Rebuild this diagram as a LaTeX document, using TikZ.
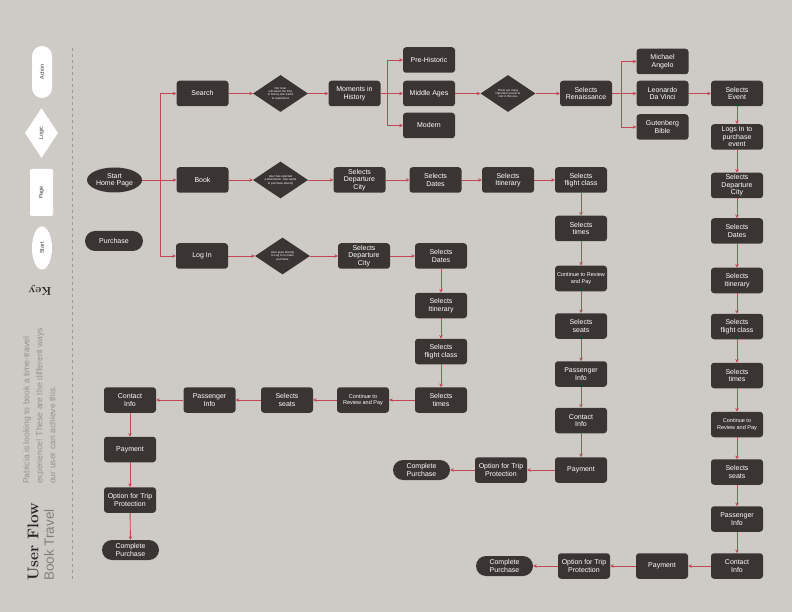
\documentclass[tikz,border=0pt]{standalone}
\usepackage{fontspec}
\usetikzlibrary{shapes.geometric,arrows.meta}
\newfontfamily\uif{Liberation Sans}
\definecolor{bg}{RGB}{206,203,199}
\definecolor{boxc}{RGB}{58,53,50}
\definecolor{flow}{RGB}{196,70,84}
\definecolor{greytext}{RGB}{130,127,123}
\definecolor{keytext}{RGB}{60,56,53}
\tikzset{
  stepbox/.style={rectangle, rounded corners=3pt, fill=boxc, text=white, minimum width=52pt, minimum height=25.5pt, inner sep=1pt, align=center, font=\uif\fontsize{7}{7.4}\selectfont},
  smallbox/.style={stepbox, font=\uif\fontsize{5.5}{6.5}\selectfont},
  pill/.style={stepbox, rounded corners=10pt, minimum width=57pt, minimum height=20pt},
  startell/.style={ellipse, fill=boxc, text=white, minimum width=55pt, minimum height=25pt, inner sep=0pt, align=center, font=\uif\fontsize{7}{7.4}\selectfont},
  logic/.style={diamond, fill=boxc, text=white, minimum width=55pt, minimum height=37pt, inner sep=0pt, aspect=1.49, align=center, font=\uif\fontsize{2.9}{3.4}\selectfont},
  keyshape/.style={fill=white, text=keytext, rotate=90, inner sep=0pt, font=\uif\fontsize{5.5}{6}\selectfont},
  arr/.style={draw=flow, line width=0.9pt, -{Stealth[length=3.5pt,width=3.5pt]}}
}
\begin{document}
\begin{tikzpicture}[x=1pt,y=-1pt]
\useasboundingbox (0,0) rectangle (792,612);
\fill[bg] (0,0) rectangle (792,612);

% ---- key and titles ----
\draw[greytext!80, dashed, line width=0.6pt] (72,48) -- (72,582);
\node[keyshape, rectangle, rounded corners=10pt, minimum width=52pt, minimum height=20pt] (kaction) at (42,72) {Action};
\node[keyshape, diamond, minimum width=50pt, minimum height=33pt] (klogic) at (41.5,133) {Logic};
\node[keyshape, rectangle, rounded corners=2pt, minimum width=47pt, minimum height=23pt] (kpage) at (41.5,192.5) {Page};
\node[keyshape, ellipse, minimum width=43pt, minimum height=20pt] (kstart) at (42,248) {Start};
\node[rotate=180, text=black!85, font=\fontsize{11.5}{11.5}\selectfont\bfseries, inner sep=0pt] (keylbl) at (40,290) {Key};
\node[rotate=90, anchor=west, inner sep=0pt, text=black!85, font=\fontsize{15.5}{15.5}\selectfont\bfseries] (title) at (33,581) {User Flow};
\node[rotate=90, anchor=west, inner sep=0pt, text=greytext, font=\uif\fontsize{13.5}{13.5}\selectfont] (subtitle) at (49,581) {Book Travel};
\node[rotate=90, anchor=north west, inner sep=0pt, text=greytext!85, align=left, font=\uif\fontsize{8.6}{13}\selectfont] (desc) at (23,484) {Patricia is looking to book a time-travel\\experience! These are the different ways\\our user can achieve this.};

% ---- start ----
\node[startell] (start) at (114.5,180) {Start\\Home Page};
\node[pill, minimum width=58pt] (purchase) at (114,241) {Purchase};
\coordinate (hub) at (160,180);

% ---- row 1: search ----
\node[stepbox] (search) at (202.5,93.5) {Search};
\node[logic] (d1) at (280.5,93.5) {Our User\\will select the time\\in history she wants\\to experience};
\node[stepbox] (moments) at (354.5,93.5) {Moments in\\History};
\coordinate (hub2) at (387,93.5);
\node[stepbox] (pre) at (429,60) {Pre-Historic};
\node[stepbox] (middle) at (429,93.5) {Middle Ages};
\node[stepbox] (modern) at (429,125.5) {Modern};
\node[logic] (d4) at (508,93.5) {There are many\\important events to\\visit in this era.};
\node[stepbox] (ren) at (586,93.5) {Selects\\Renaissance};
\coordinate (hub3) at (621,93.5);
\node[stepbox] (mich) at (662.5,61.5) {Michael\\Angelo};
\node[stepbox] (leo) at (662.5,93.5) {Leonardo\\Da Vinci};
\node[stepbox] (gut) at (662.5,127) {Gutenberg\\Bible};
\node[stepbox] (event) at (737,93.5) {Selects\\Event};
\node[stepbox] (logs) at (737,137) {Logs In to\\purchase\\event};
\node[stepbox] (depA) at (737,185.5) {Selects\\Departure\\City};
\node[stepbox] (datesA) at (737,231) {Selects\\Dates};
\node[stepbox] (itinA) at (737,280.5) {Selects\\Itinerary};
\node[stepbox] (flightA) at (737,326.5) {Selects\\flight class};
\node[stepbox] (timesA) at (737,375.5) {Selects\\times};
\node[smallbox] (contA) at (737,424.5) {Continue to\\Review and Pay};
\node[stepbox] (seatsA) at (737,472) {Selects\\seats};
\node[stepbox] (passA) at (737,519) {Passenger\\Info};
\node[stepbox] (contactA) at (737,566) {Contact\\Info};
\node[stepbox] (payA) at (662,566) {Payment};
\node[stepbox] (optA) at (584,566) {Option for Trip\\Protection};
\node[pill] (compA) at (504.5,566) {Complete\\Purchase};

% ---- row 2: book ----
\node[stepbox] (book) at (202.5,180) {Book};
\node[logic] (d2) at (280.5,180) {User has selected\\a destination. She wants\\to purchase directly};
\node[stepbox] (depB) at (359.5,180) {Selects\\Departure\\City};
\node[stepbox] (datesB) at (435.5,180) {Selects\\Dates};
\node[stepbox] (itinB) at (508,180) {Selects\\Itinerary};
\node[stepbox] (flightB) at (581,180) {Selects\\flight class};
\node[stepbox] (timesB) at (581,228.5) {Selects\\times};
\node[smallbox] (contB) at (581,278.5) {Continue to Review\\and Pay};
\node[stepbox] (seatsB) at (581,326) {Selects\\seats};
\node[stepbox] (passB) at (581,374) {Passenger\\Info};
\node[stepbox] (contactB) at (581,420.5) {Contact\\Info};
\node[stepbox] (payB) at (581,470) {Payment};
\node[stepbox] (optB) at (501,470) {Option for Trip\\Protection};
\node[pill] (compB) at (421.5,470) {Complete\\Purchase};

% ---- row 3: log in ----
\node[stepbox] (login) at (202,256) {Log In};
\node[logic] (d3) at (282.5,256) {User goes directly\\to Log In to make\\purchase};
\node[stepbox] (depC) at (364,256) {Selects\\Departure\\City};
\node[stepbox] (datesC) at (441,256) {Selects\\Dates};
\node[stepbox] (itinC) at (441,305.5) {Selects\\Itinerary};
\node[stepbox] (flightC) at (441,351.5) {Selects\\flight class};
\node[stepbox] (timesC) at (441,400) {Selects\\times};
\node[smallbox] (contC) at (363,400) {Continue to\\Review and Pay};
\node[stepbox] (seatsC) at (287,400) {Selects\\seats};
\node[stepbox] (passC) at (209.5,400) {Passenger\\Info};
\node[stepbox] (contactC) at (130,400) {Contact\\Info};
\node[stepbox] (payC) at (130,449.5) {Payment};
\node[stepbox] (optC) at (130,500) {Option for Trip\\Protection};
\node[pill] (compC) at (130.5,550) {Complete\\Purchase};

% ---- connectors ----
\draw[arr] (start.east) -- (book.west);
\draw[arr] (hub) |- (search.west);
\draw[arr] (hub) |- (login.west);

\draw[arr] (search) -- (d1);
\draw[arr] (d1) -- (moments);
\draw[arr] (moments) -- (middle);
\draw[arr] (hub2) |- (pre.west);
\draw[arr] (hub2) |- (modern.west);
\draw[arr] (middle) -- (d4);
\draw[arr] (d4) -- (ren);
\draw[arr] (ren) -- (leo);
\draw[arr] (hub3) |- (mich.west);
\draw[arr] (hub3) |- (gut.west);
\draw[arr] (leo) -- (event);
\draw[arr] (event) -- (logs);
\draw[arr] (logs) -- (depA);
\draw[arr] (depA) -- (datesA);
\draw[arr] (datesA) -- (itinA);
\draw[arr] (itinA) -- (flightA);
\draw[arr] (flightA) -- (timesA);
\draw[arr] (timesA) -- (contA);
\draw[arr] (contA) -- (seatsA);
\draw[arr] (seatsA) -- (passA);
\draw[arr] (passA) -- (contactA);
\draw[arr] (contactA) -- (payA);
\draw[arr] (payA) -- (optA);
\draw[arr] (optA) -- (compA);

\draw[arr] (book) -- (d2);
\draw[arr] (d2) -- (depB);
\draw[arr] (depB) -- (datesB);
\draw[arr] (datesB) -- (itinB);
\draw[arr] (itinB) -- (flightB);
\draw[arr] (flightB) -- (timesB);
\draw[arr] (timesB) -- (contB);
\draw[arr] (contB) -- (seatsB);
\draw[arr] (seatsB) -- (passB);
\draw[arr] (passB) -- (contactB);
\draw[arr] (contactB) -- (payB);
\draw[arr] (payB) -- (optB);
\draw[arr] (optB) -- (compB);

\draw[arr] (login) -- (d3);
\draw[arr] (d3) -- (depC);
\draw[arr] (depC) -- (datesC);
\draw[arr] (datesC) -- (itinC);
\draw[arr] (itinC) -- (flightC);
\draw[arr] (flightC) -- (timesC);
\draw[arr] (timesC) -- (contC);
\draw[arr] (contC) -- (seatsC);
\draw[arr] (seatsC) -- (passC);
\draw[arr] (passC) -- (contactC);
\draw[arr] (contactC) -- (payC);
\draw[arr] (payC) -- (optC);
\draw[arr] (optC) -- (compC);
\end{tikzpicture}
\end{document}
